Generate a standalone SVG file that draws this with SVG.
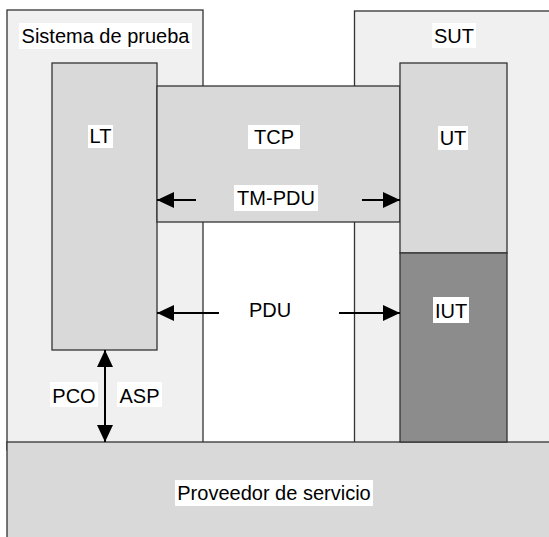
<svg xmlns="http://www.w3.org/2000/svg" width="549" height="537" viewBox="0 0 549 537">
<defs>
<style>
.box{stroke:#333;stroke-width:1.3}
.outer{fill:#f0f0f0}
.mid{fill:#d9d9d9}
.dark{fill:#8c8c8c}
.lbl{font-family:"Liberation Sans",Arial,sans-serif;font-size:20px;fill:#000;text-anchor:middle}
.bg{fill:#fff}
.conn{stroke:#000;stroke-width:2;fill:none}
</style>
<marker id="ah" viewBox="0 0 17 16" refX="17" refY="8" markerWidth="17" markerHeight="16" markerUnits="userSpaceOnUse" orient="auto-start-reverse">
<path d="M0,0 L17,8 L0,16 z" fill="#000"/>
</marker>
</defs>
<rect width="549" height="537" fill="#fff"/>
<g id="sistema">
<rect class="box outer" x="7" y="10" width="196" height="440"/>
<rect class="bg" x="19" y="23" width="173" height="26"/>
<text class="lbl" x="105.5" y="43">Sistema de prueba</text>
</g>
<g id="sut">
<rect class="box outer" x="354.5" y="11" width="210" height="440"/>
<rect class="bg" x="432" y="23" width="44" height="25"/>
<text class="lbl" x="454" y="43">SUT</text>
</g>
<g id="proveedor">
<rect class="box mid" x="7" y="442" width="560" height="120"/>
<rect class="bg" x="175" y="480" width="198" height="26"/>
<text class="lbl" x="274" y="500">Proveedor de servicio</text>
</g>
<g id="lt">
<rect class="box mid" x="52" y="63" width="105" height="287"/>
<rect class="bg" x="88" y="125" width="25" height="23"/>
<text class="lbl" x="100.5" y="143">LT</text>
</g>
<g id="tcp">
<rect class="box mid" x="157" y="86" width="243" height="136"/>
<rect class="bg" x="248" y="125" width="52" height="24"/>
<text class="lbl" x="274" y="144">TCP</text>
</g>
<g id="ut">
<rect class="box mid" x="400" y="63" width="107" height="190"/>
<rect class="bg" x="438" y="126" width="30" height="24"/>
<text class="lbl" x="453" y="145">UT</text>
</g>
<g id="iut">
<rect class="box dark" x="400" y="253" width="107" height="189"/>
<rect class="bg" x="433" y="297" width="36" height="26"/>
<text class="lbl" x="451" y="318">IUT</text>
</g>
<g id="labels">
<rect class="bg" x="234" y="185" width="84" height="26"/>
<text class="lbl" x="276" y="205">TM-PDU</text>
<text class="lbl" x="270" y="317">PDU</text>
<rect class="bg" x="50" y="382" width="48" height="25"/>
<text class="lbl" x="74" y="403">PCO</text>
<rect class="bg" x="117" y="382" width="45" height="25"/>
<text class="lbl" x="139.5" y="403">ASP</text>
</g>
<g id="connectors">
<path class="conn" d="M196,200 L157,200" marker-end="url(#ah)"/>
<path class="conn" d="M362,200 L400,200" marker-end="url(#ah)"/>
<path class="conn" d="M219,313 L157,313" marker-end="url(#ah)"/>
<path class="conn" d="M339,313 L400,313" marker-end="url(#ah)"/>
<path class="conn" d="M105,350 L105,442" marker-start="url(#ah)" marker-end="url(#ah)"/>
</g>
</svg>
